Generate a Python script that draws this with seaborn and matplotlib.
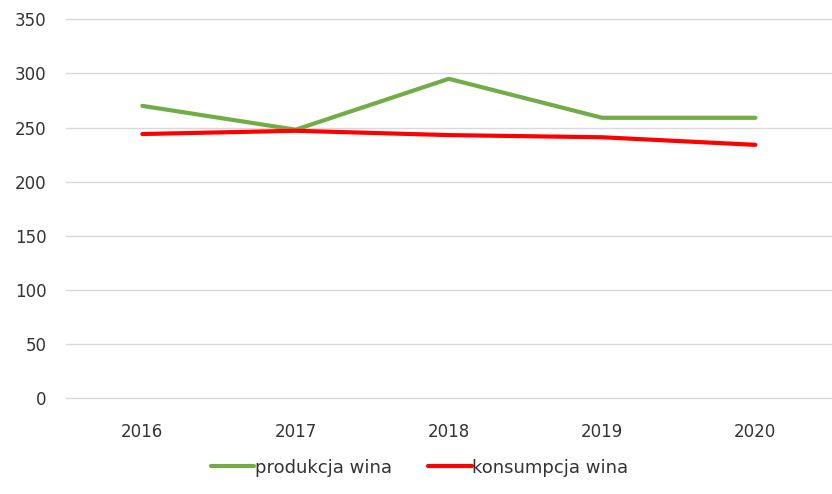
import pandas as pd
import matplotlib.pyplot as plt
import seaborn as sns

years = ['2016', '2017', '2018', '2019', '2020']
produkcja = [270, 248, 295, 259, 259]
konsumpcja = [244, 247, 243, 241, 234]

df = pd.DataFrame({
    'rok': years * 2,
    'wartosc': produkcja + konsumpcja,
    'seria': ['produkcja wina'] * 5 + ['konsumpcja wina'] * 5,
})

sns.set_style('white')
plt.rcParams['font.family'] = ['DejaVu Sans']

fig = plt.figure(figsize=(8.32, 4.94), dpi=100)
ax = fig.add_axes([0.079, 0.194, 0.921, 0.767])

sns.lineplot(data=df, x='rok', y='wartosc', hue='seria',
             palette={'produkcja wina': '#70AD47', 'konsumpcja wina': '#FF0000'},
             linewidth=3, ax=ax, sort=False)

ax.set_xlim(-0.5, 4.5)
ax.set_ylim(0, 350)
ax.set_yticks(range(0, 351, 50))
ax.yaxis.grid(True, color='#D9D9D9', linewidth=1)
ax.xaxis.grid(False)
for gl in ax.get_ygridlines():
    gl.set_clip_on(False)
sns.despine(ax=ax, left=True, bottom=True, top=True, right=True)
ax.tick_params(axis='both', length=0, labelsize=12, colors='#333333')
ax.tick_params(axis='y', pad=14)
ax.tick_params(axis='x', pad=18)
ax.set_xlabel('')
ax.set_ylabel('')

ax.legend(loc='lower center', bbox_to_anchor=(0.462, -0.25), ncol=2, frameon=False,
          fontsize=13, handlelength=2.4, handletextpad=0.05, columnspacing=2.0,
          labelcolor='#333333')

fig.savefig('out.png', dpi=100)
